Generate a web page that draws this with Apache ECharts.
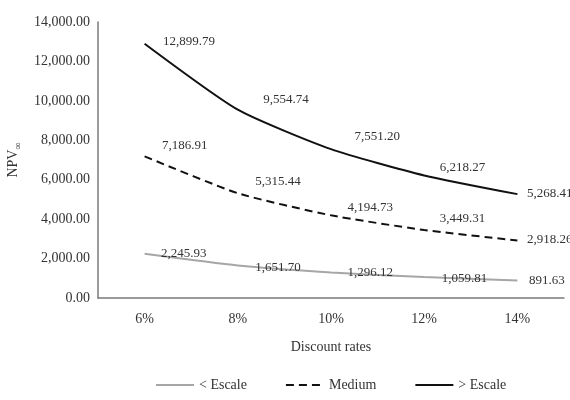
<!DOCTYPE html>
<html><head><meta charset="utf-8">
<script src="https://cdn.jsdelivr.net/npm/echarts@6/dist/echarts.min.js"></script>
<style>html,body{margin:0;padding:0;background:#fff}#c{width:570px;height:400px}</style>
</head><body><div id="c"></div>
<script>
const categories = ['6%', '8%', '10%', '12%', '14%'];
const lowEscale = [2245.93, 1651.70, 1296.12, 1059.81, 891.63];
const medium = [7186.91, 5315.44, 4194.73, 3449.31, 2918.26];
const highEscale = [12899.79, 9554.74, 7551.20, 6218.27, 5268.41];
const seriesNames = ['< Escale', 'Medium', '> Escale'];
const yTicks = [0, 2000, 4000, 6000, 8000, 10000, 12000, 14000];

// label offsets in pixels relative to each point (style only), per series
const labelOffsets = [
  [[16, 0], [17, 2], [16, 0], [17, 1], [11, 0]],
  [[17, -11], [17, -12], [16, -8], [15, -11], [9, -1]],
  [[18, -2], [25, -10], [23, -13], [15, -8], [9, -1]]
];

const FONT = '"Liberation Serif", "Times New Roman", serif';
const TXT = '#333';
const FS = 14;
const LFS = 13;
const fmt = v => v.toLocaleString('en-US', {minimumFractionDigits: 2, maximumFractionDigits: 2});

function series(name, vals, color, type, width) {
  return {
    name, type: 'line', data: vals, smooth: 0.2,
    symbol: 'circle', symbolSize: 1, showSymbol: true,
    lineStyle: {color, width, type},
    itemStyle: {color: 'rgba(0,0,0,0)', borderWidth: 0},
    label: {show: true, position: 'right', distance: 0, color: TXT, fontFamily: FONT, fontSize: LFS,
      formatter: p => fmt(p.value)},
    labelLayout: p => {
      const o = labelOffsets[p.seriesIndex][p.dataIndex];
      return {dx: o[0], dy: o[1], hideOverlap: false};
    },
    emphasis: {disabled: true}
  };
}

const chart = echarts.init(document.getElementById('c'), null, {renderer: 'canvas'});
chart.setOption({
  animation: false,
  textStyle: {fontFamily: FONT},
  grid: {left: 98, right: 6, top: 22, bottom: 102, containLabel: false, outerBoundsMode: 'none'},
  legend: {
    bottom: 3, left: 150, itemGap: 38, itemWidth: 38, itemHeight: 10,
    itemStyle: {opacity: 0},
    textStyle: {fontFamily: FONT, fontSize: FS, color: TXT},
    data: seriesNames
  },
  xAxis: {
    type: 'category', data: categories, boundaryGap: true,
    name: 'Discount rates', nameLocation: 'middle', nameGap: 42,
    nameTextStyle: {fontFamily: FONT, fontSize: FS, color: TXT},
    axisLine: {lineStyle: {color: '#7a7a7a', width: 1.5}},
    axisTick: {show: false},
    axisLabel: {fontFamily: FONT, fontSize: FS, color: TXT, margin: 14}
  },
  yAxis: {
    type: 'value', min: yTicks[0], max: yTicks[yTicks.length - 1], interval: 2000,
    name: '{m|NPV}{s|∞}', nameLocation: 'middle', nameGap: 66, nameRotate: 90,
    nameTextStyle: {fontFamily: FONT, fontSize: FS, color: TXT,
      rich: {
        m: {fontFamily: FONT, fontSize: FS, color: TXT, lineHeight: 18, verticalAlign: 'bottom'},
        s: {fontFamily: FONT, fontSize: 10, color: TXT, lineHeight: 18, verticalAlign: 'bottom', padding: [0, 0, -3, 0]}
      }},
    axisLine: {show: true, lineStyle: {color: '#7a7a7a', width: 1.5}},
    axisTick: {show: false},
    splitLine: {show: false},
    axisLabel: {fontFamily: FONT, fontSize: FS, color: TXT, margin: 8, formatter: v => fmt(v)}
  },
  series: [
    series(seriesNames[0], lowEscale, '#a6a6a6', 'solid', 2),
    series(seriesNames[1], medium, '#111', [8, 5], 2),
    series(seriesNames[2], highEscale, '#111', 'solid', 2)
  ]
});
</script></body></html>
